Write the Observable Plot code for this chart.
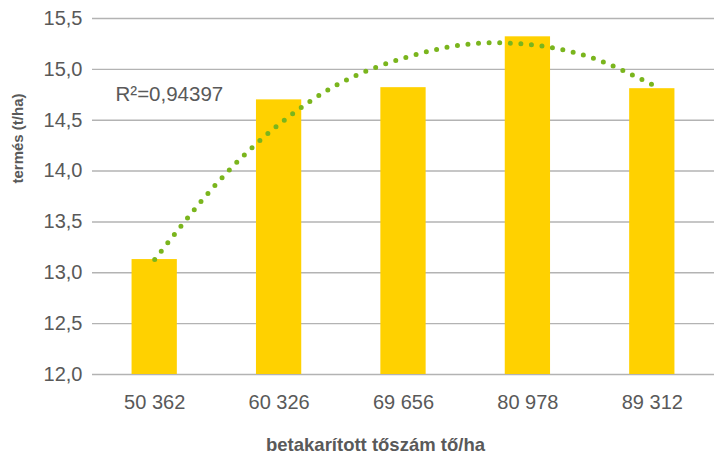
<!DOCTYPE html>
<html><head><meta charset="utf-8">
<script src="https://cdn.jsdelivr.net/npm/d3@7"></script>
<script src="https://cdn.jsdelivr.net/npm/@observablehq/plot@0.6"></script>
<style>body{margin:0;background:#fff}</style>
</head><body><div id="chart"></div>
<script>
const categories = ["50 362", "60 326", "69 656", "80 978", "89 312"];
const yields = [13.13, 14.70, 14.82, 15.32, 14.81];
const trendX = [1, 1.5, 2, 2.5, 3, 3.5, 4, 4.5, 5];
const trendY = [13.13, 13.88, 14.46, 14.87, 15.11, 15.245, 15.245, 15.12, 14.85];
const yTicks = [12, 12.5, 13, 13.5, 14, 14.5, 15, 15.5];
const r2Label = "R²=0,94397";
const xTitle = "betakarított tőszám tő/ha";
const yTitle = "termés (t/ha)";

const bars = categories.map((c, i) => ({pos: i + 1, label: c, value: yields[i]}));
const trend = trendX.map((x, i) => ({x, y: trendY[i]}));
const halfBar = 0.182;
const fmt = d => d.toFixed(1).replace(".", ",");
const textColor = "#595959";

const chart = Plot.plot({
  width: 714, height: 454,
  marginLeft: 92, marginRight: 0, marginTop: 18, marginBottom: 80,
  style: {fontFamily: "'Liberation Sans', Arial, sans-serif", background: "#fff"},
  x: {type: "linear", domain: [0.5, 5.5]},
  y: {domain: [yTicks[0], yTicks[yTicks.length - 1]]},
  marks: [
    Plot.ruleY(yTicks, {stroke: "#b3b3b3", strokeWidth: 1.4}),
    Plot.rect(bars, {x1: d => d.pos - halfBar, x2: d => d.pos + halfBar, y1: () => yTicks[0], y2: "value", fill: "#FFD100"}),
    Plot.line(trend, {x: "x", y: "y", curve: "natural", stroke: "#7AB51D", strokeWidth: 5, strokeDasharray: "0 10.6", strokeLinecap: "round"}),
    Plot.axisY({ticks: yTicks, tickSize: 0, tickPadding: 10, fontSize: 20, fill: textColor, tickFormat: fmt, label: null}),
    Plot.axisX({ticks: bars.map(d => d.pos), tickSize: 0, tickPadding: 20, fontSize: 20, fill: textColor, tickFormat: d => categories[d - 1], label: null}),
    Plot.text([r2Label], {frameAnchor: "top-left", textAnchor: "start", lineAnchor: "middle", dx: 23, dy: 76, fontSize: 20.5, fill: textColor}),
    Plot.text([xTitle], {frameAnchor: "bottom", lineAnchor: "middle", dx: -28, dy: 70.5, fontSize: 18.5, fontWeight: "bold", fill: textColor}),
    Plot.text([yTitle], {frameAnchor: "left", lineAnchor: "middle", rotate: -90, dx: -74, dy: -13, fontSize: 15, fontWeight: "bold", fill: textColor})
  ]
});
document.getElementById("chart").appendChild(chart);
</script>
</body></html>
